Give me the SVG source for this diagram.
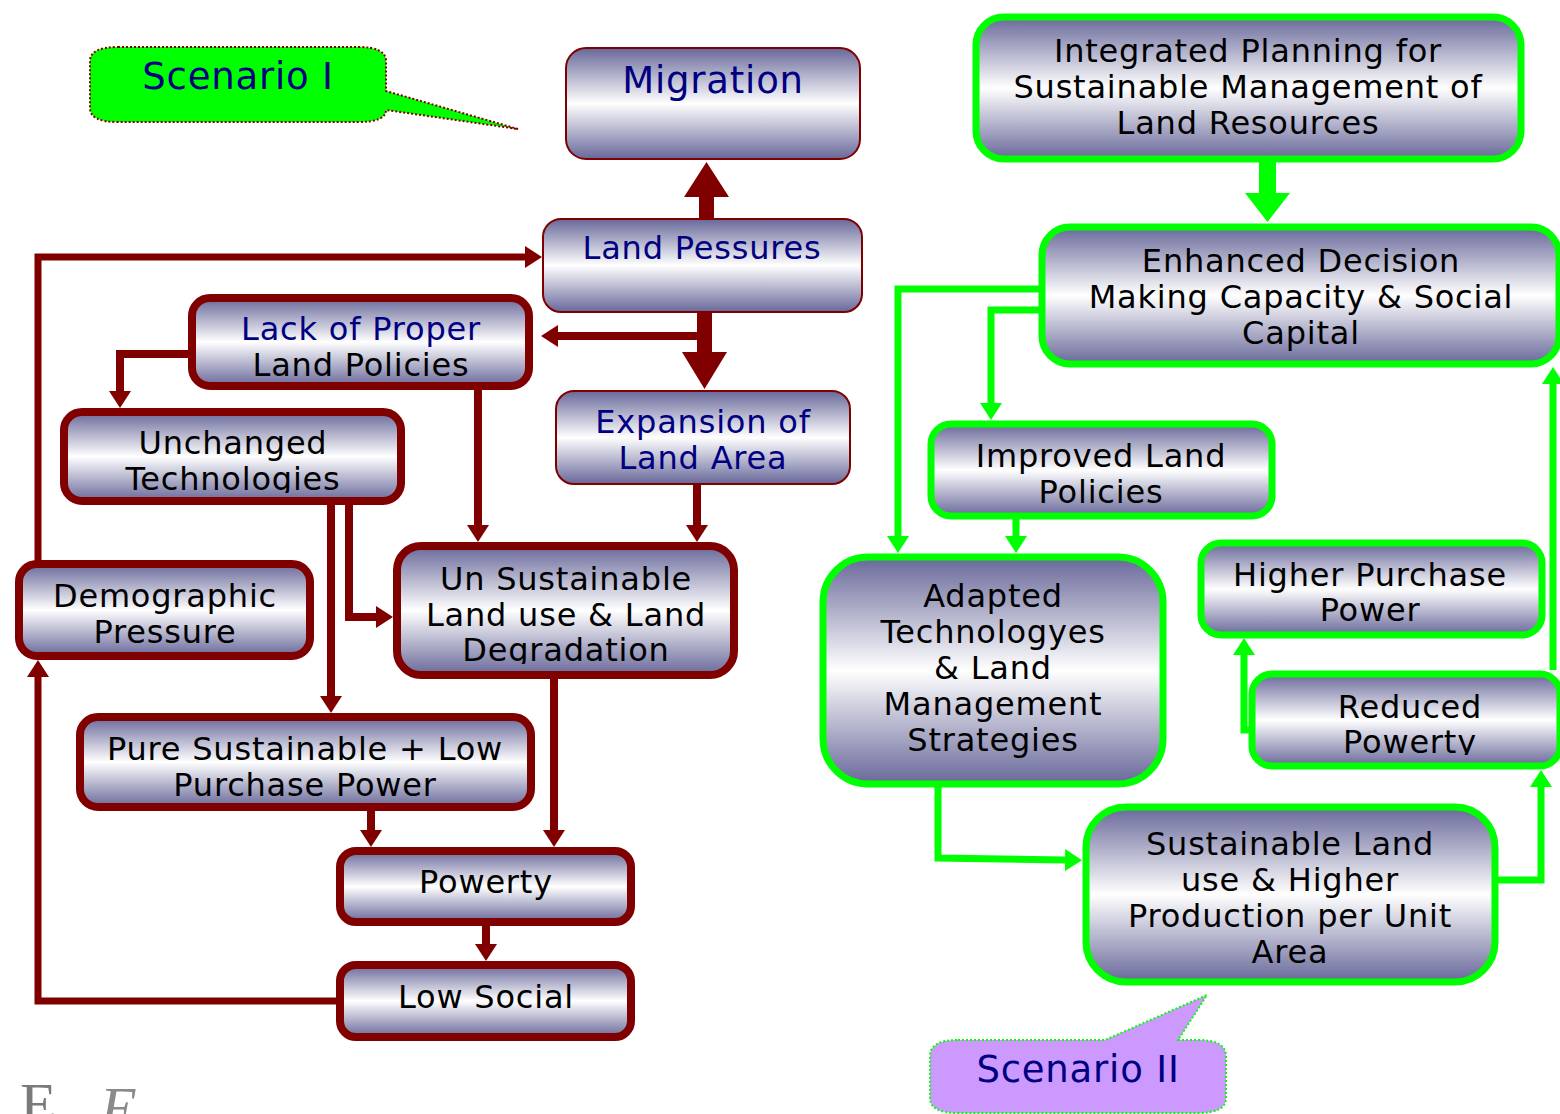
<svg xmlns="http://www.w3.org/2000/svg" width="1560" height="1114" viewBox="0 0 1560 1114">
<style>
.nt{font-family:"DejaVu Sans","Liberation Sans",sans-serif;font-size:32px;letter-spacing:0.8px;text-anchor:middle;fill:#000}
.nv{fill:#000080}
.big{font-size:37px}
.rthick{fill:url(#g);stroke:#800000;stroke-width:8}
.rthin{fill:url(#g);stroke:#800000;stroke-width:2}
.gbox{fill:url(#g);stroke:#00ff00;stroke-width:7}
.rc{fill:none;stroke:#800000;stroke-width:8;marker-end:url(#ahR)}
.rc7{fill:none;stroke:#800000;stroke-width:7;marker-end:url(#ahR)}
.gc{fill:none;stroke:#00ff00;stroke-width:7;marker-end:url(#ahG)}
</style>
<defs>
<linearGradient id="g" x1="0" y1="0" x2="0" y2="1">
<stop offset="0" stop-color="#68689a"/>
<stop offset="0.5" stop-color="#ffffff"/>
<stop offset="1" stop-color="#68689a"/>
</linearGradient>
<marker id="ahR" markerUnits="userSpaceOnUse" markerWidth="17" markerHeight="22" viewBox="0 0 17 22" refX="0" refY="11" orient="auto"><path d="M0,0 L17,11 L0,22 z" fill="#800000"/></marker>
<marker id="ahG" markerUnits="userSpaceOnUse" markerWidth="17" markerHeight="22" viewBox="0 0 17 22" refX="0" refY="11" orient="auto"><path d="M0,0 L17,11 L0,22 z" fill="#00ff00"/></marker>
<clipPath id="cUnch"><rect x="60" y="408" width="345" height="85"/></clipPath>
<clipPath id="cUns"><rect x="393" y="542" width="345" height="122"/></clipPath>
<clipPath id="cRed"><rect x="1248" y="670" width="312" height="85"/></clipPath>
</defs>

<g id="connectors">
<polygon points="699,218 699,197 684,197 706.5,162 729,197 714,197 714,218" fill="#800000"/>
<polygon points="697,313 697,352 682,352 704.5,389 727,352 712,352 712,313" fill="#800000"/>
<path class="rc" d="M700,336 H558"/>
<path class="rc7" d="M38,562 V257 H525"/>
<path class="rc7" d="M336,1001 H38 V677"/>
<path class="rc" d="M188,354 H120 V391"/>
<path class="rc" d="M478,390 V525"/>
<path class="rc" d="M697,485 V525"/>
<path class="rc" d="M349,505 V617 H376"/>
<path class="rc" d="M331,505 V696"/>
<path class="rc" d="M371,811 V830"/>
<path class="rc" d="M554,679 V830"/>
<path class="rc" d="M486,926 V944"/>
<polygon points="1259,160 1259,193 1245,193 1267.5,222 1290,193 1276,193 1276,160" fill="#00ff00"/>
<path class="gc" d="M1040,289 H898 V536"/>
<path class="gc" d="M1040,310 H991 V403"/>
<path class="gc" d="M1016,519 V536"/>
<path class="gc" d="M938,787 V858 L1065,860"/>
<path class="gc" d="M1498,880 H1541 V787"/>
<path class="gc" d="M1250,730 H1244 V655"/>
<path class="gc" d="M1553,670 V384"/>
</g>

<g id="scenario1">
<path d="M118,47 H358 Q386,47 386,61 V91 L518,129 L386,110 Q386,122 358,122 H118 Q90,122 90,108 V61 Q90,47 118,47 Z" fill="#00ff00" stroke="#800000" stroke-width="2" stroke-dasharray="2 2"/>
<text class="nt nv big" x="238" y="89">Scenario I</text>
</g>

<g id="migration">
<rect class="rthin" x="566" y="48" width="294" height="111" rx="20"/>
<text class="nt nv big" x="713" y="93">Migration</text>
</g>
<g id="land-pressures">
<rect class="rthin" x="543" y="219" width="319" height="93" rx="18"/>
<text class="nt nv" x="702" y="259">Land Pessures</text>
</g>
<g id="lack-policies">
<rect class="rthick" x="192" y="298" width="337" height="88" rx="18"/>
<text class="nt nv" x="361" y="340">Lack of Proper</text>
<text class="nt" x="361" y="376">Land Policies</text>
</g>
<g id="expansion">
<rect class="rthin" x="556" y="391" width="294" height="93" rx="18"/>
<text class="nt nv" x="703" y="433">Expansion of</text>
<text class="nt nv" x="703" y="469">Land Area</text>
</g>
<g id="unchanged">
<rect class="rthick" x="64" y="412" width="337" height="89" rx="18"/>
<g clip-path="url(#cUnch)">
<text class="nt" x="233" y="454">Unchanged</text>
<text class="nt" x="233" y="490">Technologies</text>
</g>
</g>
<g id="demographic">
<rect class="rthick" x="19" y="564" width="291" height="92" rx="18"/>
<text class="nt" x="165" y="607">Demographic</text>
<text class="nt" x="165" y="643">Pressure</text>
</g>
<g id="unsustainable">
<rect class="rthick" x="397" y="546" width="337" height="129" rx="24"/>
<g clip-path="url(#cUns)">
<text class="nt" x="566" y="590">Un Sustainable</text>
<text class="nt" x="566" y="626">Land use &amp; Land</text>
<text class="nt" x="566" y="661">Degradation</text>
</g>
</g>
<g id="pure-sustainable">
<rect class="rthick" x="80" y="717" width="451" height="90" rx="18"/>
<text class="nt" x="305" y="760">Pure Sustainable + Low</text>
<text class="nt" x="305" y="796">Purchase Power</text>
</g>
<g id="powerty">
<rect class="rthick" x="340" y="851" width="291" height="71" rx="16"/>
<text class="nt" x="486" y="893">Powerty</text>
</g>
<g id="low-social">
<rect class="rthick" x="340" y="965" width="291" height="72" rx="16"/>
<text class="nt" x="486" y="1008">Low Social</text>
</g>

<g id="integrated">
<rect class="gbox" x="976" y="17" width="545" height="142" rx="28"/>
<text class="nt" x="1248" y="62">Integrated Planning for</text>
<text class="nt" x="1248" y="98">Sustainable Management of</text>
<text class="nt" x="1248" y="134">Land Resources</text>
</g>
<g id="enhanced">
<rect class="gbox" x="1042" y="227" width="517" height="137" rx="28"/>
<text class="nt" x="1301" y="272">Enhanced Decision</text>
<text class="nt" x="1301" y="308">Making Capacity &amp; Social</text>
<text class="nt" x="1301" y="344">Capital</text>
</g>
<g id="improved">
<rect class="gbox" x="931" y="424" width="341" height="92" rx="20"/>
<text class="nt" x="1101" y="467">Improved Land</text>
<text class="nt" x="1101" y="503">Policies</text>
</g>
<g id="adapted">
<rect class="gbox" x="823" y="557" width="340" height="227" rx="45"/>
<text class="nt" x="993" y="607">Adapted</text>
<text class="nt" x="993" y="643">Technologyes</text>
<text class="nt" x="993" y="679">&amp; Land</text>
<text class="nt" x="993" y="715">Management</text>
<text class="nt" x="993" y="751">Strategies</text>
</g>
<g id="higher-purchase">
<rect class="gbox" x="1201" y="543" width="341" height="92" rx="20"/>
<text class="nt" x="1370" y="586">Higher Purchase</text>
<text class="nt" x="1370" y="621">Power</text>
</g>
<g id="reduced-powerty">
<rect class="gbox" x="1252" y="674" width="308" height="92" rx="20"/>
<g clip-path="url(#cRed)">
<text class="nt" x="1410" y="718">Reduced</text>
<text class="nt" x="1410" y="753">Powerty</text>
</g>
</g>
<g id="sustainable">
<rect class="gbox" x="1086" y="807" width="409" height="175" rx="40"/>
<text class="nt" x="1290" y="855">Sustainable Land</text>
<text class="nt" x="1290" y="891">use &amp; Higher</text>
<text class="nt" x="1290" y="927">Production per Unit</text>
<text class="nt" x="1290" y="963">Area</text>
</g>

<g id="scenario2">
<path d="M958,1040 H1105 L1207,995 L1178,1040 H1198 Q1226,1040 1226,1056 V1098 Q1226,1113 1198,1113 H958 Q930,1113 930,1098 V1056 Q930,1040 958,1040 Z" fill="#cc99ff" stroke="#00ff00" stroke-width="2" stroke-dasharray="2 2"/>
<text class="nt nv big" x="1078" y="1082">Scenario II</text>
</g>

<g id="watermark">
<text x="20" y="1124" font-family="Liberation Serif,serif" font-size="60" fill="#7a7a7a">E</text>
<text x="100" y="1128" font-family="Liberation Serif,serif" font-size="60" font-style="italic" fill="#8a8a8a">E</text>
</g>
</svg>
